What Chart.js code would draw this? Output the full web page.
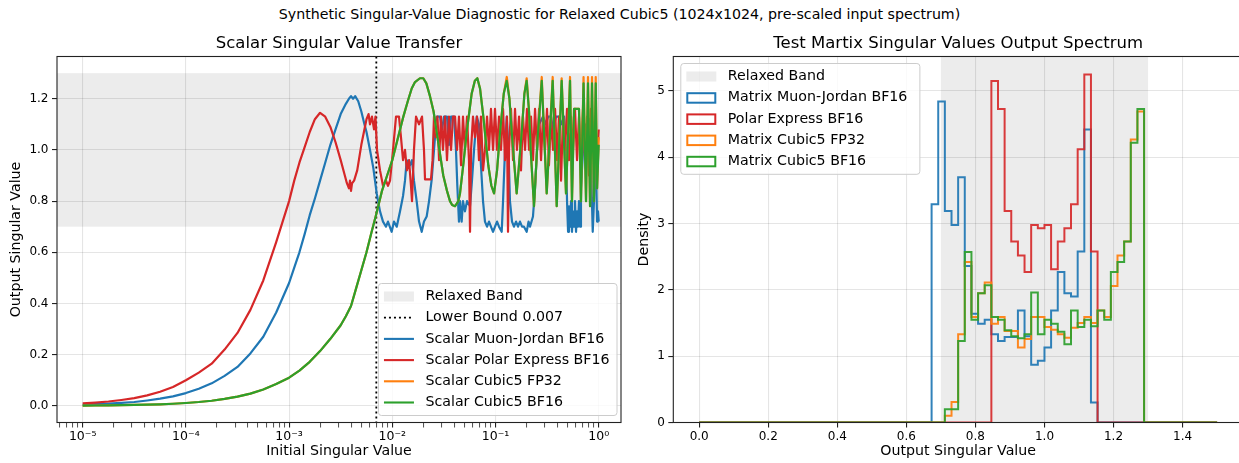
<!DOCTYPE html>
<html>
<head>
<meta charset="utf-8">
<script src="https://cdn.jsdelivr.net/npm/chart.js@4.4.1/dist/chart.umd.min.js"></script>
<style>
  html, body { margin: 0; padding: 0; background: #fff; overflow: hidden; width: 1239px; height: 463px; }
  #suptitle { position: absolute; left: 0; top: 0; width: 1239px; text-align: center;
    font: 14.2px "DejaVu Sans", sans-serif; line-height: 28px; color: #000; }
  canvas { position: absolute; top: 0; }
  #transfer { left: 0; }
  #spectrum { left: 630px; }
</style>
</head>
<body>
<div id="suptitle">Synthetic Singular-Value Diagnostic for Relaxed Cubic5 (1024x1024, pre-scaled input spectrum)</div>
<canvas id="transfer" width="630" height="463"></canvas>
<canvas id="spectrum" width="620" height="463"></canvas>
<script>
// ---- data: left panel, [log10(initial singular value), output singular value]
const muonPoints = [
  [-5, 0.004], [-4.875, 0.0067], [-4.75, 0.009], [-4.625, 0.012], [-4.5, 0.015], [-4.375, 0.021],
  [-4.25, 0.028], [-4.125, 0.037], [-4, 0.05], [-3.875, 0.067], [-3.75, 0.088], [-3.625, 0.117],
  [-3.5, 0.152], [-3.375, 0.205], [-3.25, 0.27], [-3.125, 0.365], [-3, 0.48], [-2.95, 0.54], [-2.9, 0.6],
  [-2.85, 0.67], [-2.8, 0.745], [-2.75, 0.81], [-2.7, 0.88], [-2.65, 0.95], [-2.6, 1.02], [-2.55, 1.08],
  [-2.5, 1.14], [-2.45, 1.18], [-2.42, 1.2], [-2.4, 1.21], [-2.38, 1.2], [-2.36, 1.21], [-2.33, 1.19],
  [-2.3, 1.15], [-2.27, 1.1], [-2.25, 1.07], [-2.216, 1.0], [-2.184, 0.93], [-2.151, 0.83], [-2.119, 0.76],
  [-2.09, 0.72], [-2.061, 0.7], [-2.042, 0.72], [-2.006, 0.68], [-1.984, 0.72], [-1.957, 0.7], [-1.925, 0.76],
  [-1.896, 0.82], [-1.877, 0.88], [-1.86, 0.96], [-1.829, 0.94], [-1.809, 0.96], [-1.79, 0.88], [-1.764, 0.8],
  [-1.741, 0.72], [-1.715, 0.68], [-1.693, 0.72], [-1.667, 0.74], [-1.644, 0.8], [-1.618, 0.885], [-1.596, 1.0],
  [-1.57, 1.13], [-1.538, 1.13], [-1.518, 1.08], [-1.499, 1.13], [-1.47, 1.13], [-1.451, 1.02], [-1.431, 1.13],
  [-1.402, 1.13], [-1.383, 1.0], [-1.37, 0.86], [-1.354, 0.72], [-1.344, 0.8], [-1.328, 0.72], [-1.315, 0.8],
  [-1.296, 0.76], [-1.276, 0.8], [-1.247, 0.78], [-1.228, 0.88], [-1.208, 1.0], [-1.182, 1.13], [-1.16, 1.1],
  [-1.141, 0.94], [-1.121, 0.8], [-1.102, 0.72], [-1.082, 0.7], [-1.063, 0.72], [-1.044, 0.7], [-1.024, 0.68],
  [-1.005, 0.7], [-0.985, 0.72], [-0.966, 0.7], [-0.94, 0.68], [-0.927, 0.8], [-0.908, 1.0], [-0.891, 1.13],
  [-0.874, 1.0], [-0.86, 0.8], [-0.84, 0.72], [-0.821, 0.7], [-0.801, 0.72], [-0.782, 0.7], [-0.763, 0.72],
  [-0.743, 0.7], [-0.724, 0.7], [-0.698, 0.68], [-0.68, 0.72], [-0.666, 0.7], [-0.637, 0.74], [-0.617, 0.85],
  [-0.598, 1.0], [-0.578, 1.1], [-0.54, 1.13], [-0.511, 1.1], [-0.491, 1.13], [-0.462, 1.13], [-0.443, 1.08],
  [-0.414, 1.13], [-0.385, 1.13], [-0.356, 1.1], [-0.336, 1.13], [-0.317, 1.0], [-0.307, 0.8], [-0.297, 0.68],
  [-0.288, 0.78], [-0.278, 0.7], [-0.268, 0.8], [-0.259, 0.68], [-0.249, 0.76], [-0.239, 0.7], [-0.23, 0.8],
  [-0.22, 0.68], [-0.21, 0.76], [-0.201, 0.7], [-0.191, 0.8], [-0.181, 0.7], [-0.172, 0.85], [-0.152, 1.0],
  [-0.133, 1.1], [-0.113, 1.05], [-0.094, 1.12], [-0.075, 0.95], [-0.058, 0.68], [-0.046, 0.8], [-0.031, 1.05],
  [-0.016, 0.72], [-0.007, 0.76], [0, 0.72]
];
const polarPoints = [
  [-5, 0.01], [-4.875, 0.013], [-4.75, 0.017], [-4.625, 0.023], [-4.5, 0.03], [-4.375, 0.041],
  [-4.25, 0.055], [-4.125, 0.074], [-4, 0.1], [-3.875, 0.13], [-3.75, 0.165], [-3.625, 0.22], [-3.5, 0.285],
  [-3.375, 0.375], [-3.25, 0.49], [-3.125, 0.64], [-3, 0.8], [-2.95, 0.88], [-2.9, 0.95], [-2.85, 1.01],
  [-2.8, 1.07], [-2.75, 1.12], [-2.7, 1.145], [-2.65, 1.13], [-2.6, 1.09], [-2.55, 1.03], [-2.5, 0.96],
  [-2.46, 0.9], [-2.44, 0.87], [-2.42, 0.85], [-2.41, 0.88], [-2.4, 0.84], [-2.39, 0.87], [-2.37, 0.88],
  [-2.34, 0.92], [-2.3, 1.02], [-2.25, 1.12], [-2.23, 1.14], [-2.216, 1.1], [-2.197, 1.13], [-2.177, 1.08],
  [-2.163, 1.13], [-2.148, 1.0], [-2.119, 0.92], [-2.09, 0.86], [-2.061, 0.88], [-2.042, 0.86], [-2.022, 0.88],
  [-1.993, 1.0], [-1.964, 1.13], [-1.935, 1.13], [-1.916, 1.05], [-1.896, 0.96], [-1.877, 1.0], [-1.858, 0.92],
  [-1.838, 0.96], [-1.819, 0.86], [-1.809, 0.8], [-1.79, 1.0], [-1.77, 1.13], [-1.741, 1.1], [-1.712, 1.13],
  [-1.693, 1.0], [-1.683, 0.885], [-1.654, 0.885], [-1.625, 0.885], [-1.61, 0.96], [-1.596, 1.13], [-1.577, 1.05],
  [-1.562, 1.13], [-1.547, 0.96], [-1.528, 1.13], [-1.509, 1.0], [-1.489, 1.13], [-1.47, 0.96], [-1.451, 1.13],
  [-1.431, 1.0], [-1.412, 1.13], [-1.392, 1.13], [-1.373, 1.0], [-1.354, 1.13], [-1.334, 0.94], [-1.315, 1.13],
  [-1.296, 1.0], [-1.276, 1.13], [-1.257, 0.96], [-1.247, 0.68], [-1.237, 1.0], [-1.218, 1.13], [-1.199, 1.05],
  [-1.179, 1.13], [-1.16, 0.96], [-1.141, 1.13], [-1.121, 0.92], [-1.102, 1.0], [-1.082, 1.13], [-1.063, 1.0],
  [-1.044, 1.16], [-1.024, 1.0], [-1.005, 1.16], [-0.985, 1.0], [-0.966, 1.13], [-0.947, 1.0], [-0.927, 1.16],
  [-0.908, 0.96], [-0.889, 1.13], [-0.879, 0.68], [-0.869, 1.0], [-0.85, 1.16], [-0.83, 0.96], [-0.811, 1.16],
  [-0.792, 1.0], [-0.772, 1.13], [-0.753, 0.92], [-0.734, 1.13], [-0.714, 1.0], [-0.695, 1.16], [-0.675, 1.0],
  [-0.656, 1.13], [-0.637, 0.96], [-0.617, 1.16], [-0.598, 1.0], [-0.578, 1.16], [-0.559, 0.96], [-0.54, 1.13],
  [-0.52, 1.0], [-0.501, 1.16], [-0.482, 0.94], [-0.462, 1.13], [-0.443, 1.0], [-0.423, 1.16], [-0.404, 0.96],
  [-0.385, 1.13], [-0.365, 0.88], [-0.346, 1.13], [-0.327, 1.0], [-0.307, 1.16], [-0.288, 0.96], [-0.268, 1.13],
  [-0.249, 1.0], [-0.23, 1.16], [-0.21, 0.96], [-0.191, 1.13], [-0.172, 0.92], [-0.152, 1.16], [-0.133, 0.96],
  [-0.113, 1.13], [-0.094, 0.9], [-0.075, 1.16], [-0.055, 1.0], [-0.036, 1.13], [-0.016, 0.96], [0, 1.08]
];
const cubicFp32Points = [
  [-5, 0.001], [-4.875, 0.0015], [-4.75, 0.002], [-4.625, 0.0026], [-4.5, 0.0035], [-4.375, 0.0046],
  [-4.25, 0.0062], [-4.125, 0.0083], [-4, 0.0112], [-3.875, 0.015], [-3.75, 0.02], [-3.625, 0.027],
  [-3.5, 0.036], [-3.375, 0.048], [-3.25, 0.064], [-3.125, 0.085], [-3, 0.11], [-2.9, 0.138], [-2.8, 0.172],
  [-2.7, 0.214], [-2.6, 0.262], [-2.5, 0.315], [-2.45, 0.35], [-2.4, 0.39], [-2.35, 0.46], [-2.3, 0.53],
  [-2.25, 0.6], [-2.2, 0.68], [-2.155, 0.75], [-2.1, 0.84], [-2.05, 0.9], [-2.0, 0.96], [-1.95, 1.04],
  [-1.893, 1.13], [-1.85, 1.19], [-1.812, 1.24], [-1.78, 1.265], [-1.732, 1.28], [-1.7, 1.28], [-1.67, 1.26],
  [-1.635, 1.21], [-1.6, 1.15], [-1.57, 1.07], [-1.506, 0.9], [-1.47, 0.84], [-1.441, 0.8], [-1.42, 0.785],
  [-1.392, 0.78], [-1.36, 0.8], [-1.344, 0.83], [-1.31, 0.95], [-1.279, 1.07], [-1.231, 1.22], [-1.2, 1.27],
  [-1.176, 1.28], [-1.15, 1.24], [-1.118, 1.13], [-1.07, 0.94], [-1.04, 0.86], [-1.014, 0.83], [-0.985, 0.92],
  [-0.956, 1.07], [-0.92, 1.22], [-0.891, 1.285], [-0.865, 1.2], [-0.843, 1.07], [-0.795, 0.83], [-0.746, 1.07],
  [-0.72, 1.22], [-0.698, 1.28], [-0.675, 1.15], [-0.659, 1.0], [-0.627, 0.78], [-0.591, 1.05], [-0.552, 1.285],
  [-0.504, 0.83], [-0.446, 1.285], [-0.407, 0.78], [-0.359, 1.28], [-0.317, 0.83], [-0.278, 1.285], [-0.259, 0.8],
  [-0.239, 1.16], [-0.191, 1.16], [-0.172, 0.8], [-0.147, 1.285], [-0.123, 0.8], [-0.104, 1.285], [-0.084, 0.78],
  [-0.065, 1.285], [-0.046, 0.8], [-0.029, 1.285], [-0.016, 0.85], [0, 1.05]
];
const cubicBf16Points = [
  [-5, 0.001], [-4.875, 0.0015], [-4.75, 0.002], [-4.625, 0.0026], [-4.5, 0.0035], [-4.375, 0.0046],
  [-4.25, 0.0062], [-4.125, 0.0083], [-4, 0.0112], [-3.875, 0.015], [-3.75, 0.02], [-3.625, 0.027],
  [-3.5, 0.036], [-3.375, 0.048], [-3.25, 0.064], [-3.125, 0.085], [-3, 0.11], [-2.9, 0.138], [-2.8, 0.172],
  [-2.7, 0.214], [-2.6, 0.262], [-2.5, 0.315], [-2.45, 0.35], [-2.4, 0.39], [-2.35, 0.46], [-2.3, 0.53],
  [-2.25, 0.6], [-2.2, 0.68], [-2.155, 0.75], [-2.1, 0.84], [-2.05, 0.9], [-2.0, 0.96], [-1.95, 1.04],
  [-1.893, 1.13], [-1.85, 1.19], [-1.812, 1.24], [-1.78, 1.265], [-1.732, 1.28], [-1.7, 1.28], [-1.67, 1.26],
  [-1.635, 1.21], [-1.6, 1.15], [-1.57, 1.07], [-1.506, 0.9], [-1.47, 0.84], [-1.441, 0.8], [-1.42, 0.785],
  [-1.392, 0.78], [-1.36, 0.8], [-1.344, 0.83], [-1.31, 0.95], [-1.279, 1.07], [-1.231, 1.22], [-1.2, 1.27],
  [-1.176, 1.28], [-1.15, 1.24], [-1.118, 1.13], [-1.07, 0.94], [-1.04, 0.86], [-1.014, 0.83], [-0.985, 0.92],
  [-0.956, 1.07], [-0.92, 1.22], [-0.891, 1.27], [-0.865, 1.2], [-0.843, 1.07], [-0.795, 0.83], [-0.746, 1.07],
  [-0.72, 1.22], [-0.698, 1.27], [-0.675, 1.15], [-0.659, 1.0], [-0.627, 0.78], [-0.591, 1.05], [-0.552, 1.27],
  [-0.504, 0.83], [-0.446, 1.27], [-0.407, 0.78], [-0.359, 1.27], [-0.317, 0.83], [-0.278, 1.27], [-0.259, 0.8],
  [-0.239, 1.16], [-0.191, 1.16], [-0.172, 0.8], [-0.147, 1.26], [-0.123, 0.8], [-0.104, 1.26], [-0.084, 0.78],
  [-0.065, 1.26], [-0.046, 0.8], [-0.029, 1.26], [-0.016, 0.85], [0, 1.02]
];
const transferXTicks = [1e-5, 1e-4, 1e-3, 1e-2, 1e-1, 1];
const transferXTickLabels = ['10⁻⁵', '10⁻⁴', '10⁻³', '10⁻²', '10⁻¹', '10⁰'];
const minorMultiples = [2, 3, 4, 5, 6, 7, 8, 9];
const transferYTicks = [0, 0.2, 0.4, 0.6, 0.8, 1.0, 1.2];
const bandLow = 0.7, bandHigh = 1.3;
const lowerBound = 0.007;

// ---- data: right panel, step histograms (density per bin)
const histRange = [0, 1.5];
const binEdges = [0.6731, 0.6923, 0.7115, 0.7308, 0.75, 0.7692, 0.7885, 0.8077, 0.8269, 0.8462, 0.8654,
  0.8846, 0.9038, 0.9231, 0.9423, 0.9615, 0.9808, 1.0, 1.0192, 1.0385, 1.0577, 1.0769, 1.0962, 1.1154,
  1.1346, 1.1538, 1.1731, 1.1923, 1.2115, 1.2308, 1.25, 1.2692, 1.2885];
const muonDensity = [3.29, 4.84, 3.19, 2.98, 3.70, 2.36, 1.64, 1.49, 1.55, 1.33, 1.23, 1.29, 1.29, 1.69,
  1.30, 0.87, 0.93, 1.13, 1.69, 2.27, 1.95, 1.90, 2.58, 4.42, 0.30, 0, 0, 0, 0, 0, 0, 0];
const polarDensity = [0, 0, 0, 0, 0, 0, 0, 0, 0, 5.15, 4.73, 3.19, 2.73, 2.52, 2.27, 2.98, 2.93, 2.98,
  2.31, 2.73, 2.93, 3.29, 4.12, 5.25, 2.58, 0, 0, 0, 0, 0, 0, 0];
const cubicFp32Density = [0, 0, 0.10, 0.31, 1.33, 2.42, 1.59, 1.95, 2.11, 1.49, 1.59, 1.38, 1.38, 1.13,
  1.26, 1.59, 1.59, 1.44, 1.40, 1.33, 1.28, 1.43, 1.50, 1.59, 1.50, 1.69, 1.59, 2.06, 2.52, 2.73, 4.27, 4.69];
const cubicBf16Density = [0, 0, 0.20, 0.20, 1.23, 2.57, 1.55, 1.95, 2.07, 1.59, 1.55, 1.39, 1.30, 1.27,
  1.33, 1.96, 1.33, 1.55, 1.49, 1.37, 1.18, 1.69, 1.44, 1.55, 1.45, 1.69, 1.55, 2.27, 2.42, 2.73, 4.22, 4.73];
const spectrumXTicks = [0, 0.2, 0.4, 0.6, 0.8, 1.0, 1.2, 1.4];
const spectrumYTicks = [0, 1, 2, 3, 4, 5];

// ---- style
const FONT = "'DejaVu Sans', sans-serif";
const SPINE = '#222';
const GRID = 'rgba(0,0,0,0.1)';
const BAND = 'rgba(128,128,128,0.15)';
const BLUE = '#1f77b4', RED = '#d62728', ORANGE = '#ff7f0e', GREEN = '#2ca02c';

const bandPlugin = {
  id: 'band',
  beforeDraw(chart, args, opts) {
    const { ctx, chartArea: a } = chart;
    ctx.save();
    ctx.fillStyle = BAND;
    if (opts.axis === 'y') {
      const y1 = chart.scales.y.getPixelForValue(opts.to);
      const y2 = chart.scales.y.getPixelForValue(opts.from);
      ctx.fillRect(a.left, y1, a.right - a.left, y2 - y1);
    } else {
      const x1 = chart.scales.x.getPixelForValue(opts.from);
      const x2 = chart.scales.x.getPixelForValue(opts.to);
      ctx.fillRect(x1, a.top, x2 - x1, a.bottom - a.top);
    }
    ctx.restore();
  }
};

const vlinePlugin = {
  id: 'vline',
  beforeDatasetsDraw(chart, args, opts) {
    if (opts.value == null) return;
    const { ctx, chartArea: a } = chart;
    const x = chart.scales.x.getPixelForValue(opts.value);
    ctx.save();
    ctx.strokeStyle = '#000';
    ctx.lineWidth = 1.8;
    ctx.setLineDash([2, 3]);
    ctx.beginPath();
    ctx.moveTo(x, a.top);
    ctx.lineTo(x, a.bottom);
    ctx.stroke();
    ctx.restore();
  }
};

const framePlugin = {
  id: 'frame',
  afterDatasetsDraw(chart) {
    const { ctx, chartArea: a } = chart;
    ctx.save();
    ctx.strokeStyle = SPINE;
    ctx.lineWidth = 1.1;
    ctx.strokeRect(a.left, a.top, a.right - a.left, a.bottom - a.top);
    ctx.restore();
  }
};

// matplotlib-like legend drawn inside the plot area
const innerLegend = {
  id: 'innerLegend',
  afterDraw(chart, args, opts) {
    if (!opts.items) return;
    const { ctx, chartArea: a } = chart;
    const fs = 14.2, rowH = 21.2, padX = 5.5, padY = 2.4, handleW = 30, gap = 11.5;
    ctx.save();
    ctx.font = fs + 'px ' + FONT;
    const textW = Math.max(...opts.items.map(it => ctx.measureText(it.label).width));
    const w = padX + handleW + gap + textW + padX + opts.extra;
    const h = padY * 2 + rowH * opts.items.length;
    let x, y;
    if (opts.corner === 'lower right') {
      x = a.right - opts.inset[0] - w;
      y = a.bottom - opts.inset[1] - h;
    } else {
      x = a.left + opts.inset[0];
      y = a.top + opts.inset[1];
    }
    ctx.beginPath();
    if (ctx.roundRect) ctx.roundRect(x, y, w, h, 3); else ctx.rect(x, y, w, h);
    ctx.fillStyle = 'rgba(255,255,255,0.8)';
    ctx.fill();
    ctx.strokeStyle = '#cccccc';
    ctx.lineWidth = 1;
    ctx.stroke();
    opts.items.forEach((it, i) => {
      const cy = y + padY + rowH * (i + 0.5);
      const hx = x + padX;
      if (it.kind === 'patch') {
        ctx.fillStyle = BAND;
        ctx.fillRect(hx, cy - 5, handleW, 10);
      } else if (it.kind === 'outline') {
        ctx.strokeStyle = it.color;
        ctx.lineWidth = 2;
        ctx.strokeRect(hx + 1, cy - 4.5, handleW - 2, 9.5);
      } else {
        ctx.strokeStyle = it.color;
        ctx.lineWidth = it.kind === 'dotted' ? 1.8 : 2.1;
        ctx.setLineDash(it.kind === 'dotted' ? [2, 3] : []);
        ctx.beginPath();
        ctx.moveTo(hx, cy);
        ctx.lineTo(hx + handleW, cy);
        ctx.stroke();
        ctx.setLineDash([]);
      }
      ctx.fillStyle = '#000';
      ctx.textBaseline = 'middle';
      ctx.textAlign = 'left';
      ctx.fillText(it.label, hx + handleW + gap, cy);
    });
    ctx.restore();
  }
};

Chart.register(bandPlugin, vlinePlugin, framePlugin, innerLegend);

const tickFont = { family: FONT, size: 12 };
const labelFont = { family: FONT, size: 14.2 };
const titleFont = { family: FONT, size: 16.5, weight: 'normal' };

function toXY(points) {
  return points.map(([e, v]) => ({ x: 10 ** e, y: v }));
}
function lineSet(label, points, color, order) {
  return { label, data: toXY(points), borderColor: color, borderWidth: 2.2, pointRadius: 0,
    tension: 0, fill: false, order, borderJoinStyle: 'round' };
}
function histOutline(counts) {
  const pts = [{ x: histRange[0], y: 0 }];
  counts.forEach((c, i) => pts.push({ x: binEdges[i], y: c }));
  pts.push({ x: binEdges[counts.length], y: 0 });
  pts.push({ x: histRange[1], y: 0 });
  return pts;
}
function histSet(label, counts, color, order) {
  return { label, data: histOutline(counts), borderColor: color, borderWidth: 2, pointRadius: 0,
    stepped: 'before', fill: false, order, borderJoinStyle: 'miter' };
}
function fixedTicks(values) {
  return scale => { scale.ticks = values.map(v => ({ value: v, major: true })); };
}

// ---- left: scalar transfer
new Chart(document.getElementById('transfer'), {
  type: 'line',
  data: {
    datasets: [
      lineSet('Scalar Muon-Jordan BF16', muonPoints, BLUE, 4),
      lineSet('Scalar Polar Express BF16', polarPoints, RED, 3),
      lineSet('Scalar Cubic5 FP32', cubicFp32Points, ORANGE, 2),
      lineSet('Scalar Cubic5 BF16', cubicBf16Points, GREEN, 1)
    ]
  },
  options: {
    responsive: false,
    animation: false,
    events: [],
    layout: { padding: { top: 0, right: 9, bottom: 0, left: 0 }, autoPadding: false },
    scales: {
      x: {
        type: 'logarithmic',
        min: 5.64e-6,
        max: 1.644,
        afterBuildTicks(scale) {
          const ticks = [];
          [1e-6, ...transferXTicks].forEach(d => minorMultiples.forEach(m => {
            const v = d * m;
            if (v > scale.min && v < scale.max) ticks.push({ value: v, major: false });
          }));
          transferXTicks.forEach(v => ticks.push({ value: v, major: true }));
          ticks.sort((p, q) => p.value - q.value);
          scale.ticks = ticks;
        },
        afterFit(scale) { scale.height = 40.5; },
        ticks: {
          autoSkip: false, maxRotation: 0, font: { family: FONT, size: 12.5 }, color: '#000', padding: 2,
          callback(value) {
            const i = transferXTicks.indexOf(value);
            return i >= 0 ? transferXTickLabels[i] : '';
          }
        },
        grid: {
          color: c => (c.tick && c.tick.major ? GRID : 'rgba(0,0,0,0)'),
          lineWidth: 1.1, tickLength: 5, tickColor: SPINE,
          tickWidth: c => (c.tick && c.tick.major ? 1.1 : 0.8)
        },
        border: { display: false },
        title: { display: true, text: 'Initial Singular Value', font: labelFont, color: '#000',
          padding: { top: 0, bottom: 3 } }
      },
      y: {
        min: -0.065,
        max: 1.365,
        afterBuildTicks: fixedTicks(transferYTicks),
        afterFit(scale) { scale.width = 57; },
        ticks: { font: tickFont, color: '#000', padding: 3.5, callback: v => v.toFixed(1) },
        grid: { color: GRID, lineWidth: 1.1, tickLength: 5, tickColor: SPINE, tickWidth: 1.1 },
        border: { display: false },
        title: { display: true, text: 'Output Singular Value', font: labelFont, color: '#000',
          padding: { top: 8, bottom: 0 } }
      }
    },
    plugins: {
      legend: { display: false },
      tooltip: { enabled: false },
      title: { display: true, text: 'Scalar Singular Value Transfer', fullSize: false, font: titleFont,
        color: '#000', padding: { top: 34, bottom: 2.7 } },
      band: { axis: 'y', from: bandLow, to: bandHigh },
      vline: { value: lowerBound },
      innerLegend: {
        corner: 'lower right', inset: [4, 7], extra: 2,
        items: [
          { kind: 'patch', label: 'Relaxed Band' },
          { kind: 'dotted', color: '#000', label: 'Lower Bound ' + lowerBound },
          { kind: 'line', color: BLUE, label: 'Scalar Muon-Jordan BF16' },
          { kind: 'line', color: RED, label: 'Scalar Polar Express BF16' },
          { kind: 'line', color: ORANGE, label: 'Scalar Cubic5 FP32' },
          { kind: 'line', color: GREEN, label: 'Scalar Cubic5 BF16' }
        ]
      }
    }
  }
});

// ---- right: matrix output spectrum
new Chart(document.getElementById('spectrum'), {
  type: 'line',
  data: {
    datasets: [
      histSet('Matrix Muon-Jordan BF16', muonDensity, 'rgba(31,119,180,0.92)', 4),
      histSet('Polar Express BF16', polarDensity, 'rgba(214,39,40,0.9)', 3),
      histSet('Matrix Cubic5 FP32', cubicFp32Density, 'rgba(255,127,14,0.92)', 2),
      histSet('Matrix Cubic5 BF16', cubicBf16Density, 'rgba(44,160,44,0.92)', 1)
    ]
  },
  options: {
    responsive: false,
    animation: false,
    events: [],
    layout: { padding: { top: 0, right: 7, bottom: 0, left: 0 }, autoPadding: false },
    scales: {
      x: {
        type: 'linear',
        min: -0.075,
        max: 1.575,
        afterBuildTicks: fixedTicks(spectrumXTicks),
        afterFit(scale) { scale.height = 40.5; },
        ticks: { autoSkip: false, maxRotation: 0, font: tickFont, color: '#000', padding: 2,
          callback: v => v.toFixed(1) },
        grid: { color: GRID, lineWidth: 1.1, tickLength: 5, tickColor: SPINE, tickWidth: 1.1 },
        border: { display: false },
        title: { display: true, text: 'Output Singular Value', font: labelFont, color: '#000',
          padding: { top: 0, bottom: 3 } }
      },
      y: {
        min: 0,
        max: 5.52,
        afterBuildTicks: fixedTicks(spectrumYTicks),
        afterFit(scale) { scale.width = 43.3; },
        ticks: { font: tickFont, color: '#000', padding: 3.5, callback: v => String(v) },
        grid: { color: GRID, lineWidth: 1.1, tickLength: 5, tickColor: SPINE, tickWidth: 1.1 },
        border: { display: false },
        title: { display: true, text: 'Density', font: labelFont, color: '#000',
          padding: { top: 6, bottom: 0 } }
      }
    },
    plugins: {
      legend: { display: false },
      tooltip: { enabled: false },
      title: { display: true, text: 'Test Martix Singular Values Output Spectrum', fullSize: false,
        font: titleFont, color: '#000', padding: { top: 34, bottom: 2.7 } },
      band: { axis: 'x', from: bandLow, to: bandHigh },
      innerLegend: {
        corner: 'upper left', inset: [7.5, 7], extra: 7,
        items: [
          { kind: 'patch', label: 'Relaxed Band' },
          { kind: 'outline', color: BLUE, label: 'Matrix Muon-Jordan BF16' },
          { kind: 'outline', color: RED, label: 'Polar Express BF16' },
          { kind: 'outline', color: ORANGE, label: 'Matrix Cubic5 FP32' },
          { kind: 'outline', color: GREEN, label: 'Matrix Cubic5 BF16' }
        ]
      }
    }
  }
});
</script>
</body>
</html>
